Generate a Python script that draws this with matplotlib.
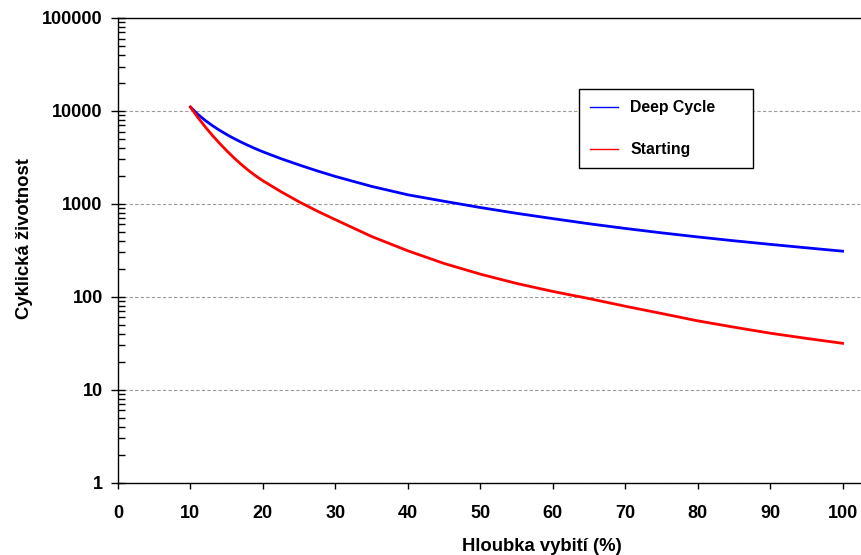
import matplotlib.pyplot as plt
from matplotlib.ticker import LogLocator, FixedLocator, NullFormatter

plt.rcParams['font.family'] = ['Liberation Sans', 'DejaVu Sans']
plt.rcParams['font.weight'] = 'bold'

# Hloubka vybiti (%) and cycle life
dod = [10, 11, 12, 13, 14, 15, 16, 17, 18, 19, 20, 22.5, 25, 27.5, 30,
       35, 40, 45, 50, 55, 60, 65, 70, 75, 80, 85, 90, 95, 100]
deep_cycle = [11000, 9220, 7940, 6970, 6200, 5570, 5050, 4610, 4240, 3910,
              3630, 3060, 2620, 2260, 1970, 1540, 1250, 1065, 912, 790,
              693, 610, 543, 487, 440, 400, 366, 336, 309]
starting = [11000, 8550, 6800, 5480, 4500, 3730, 3130, 2660, 2290, 2000,
            1770, 1350, 1050, 835, 675, 445, 312, 228, 175, 139,
            114, 95.5, 79, 66, 55, 47, 40.5, 35.6, 31.5]

x_ticks = [0, 10, 20, 30, 40, 50, 60, 70, 80, 90, 100]
y_ticks = [1, 10, 100, 1000, 10000, 100000]

fig = plt.figure(figsize=(8.61, 5.55), dpi=100)
ax = fig.add_axes([0.137, 0.1306, 0.8618, 0.837])

ax.plot(dod, deep_cycle, color='#0000FF', lw=2.0, label='Deep Cycle')
ax.plot(dod, starting, color='#FF0000', lw=2.0, label='Starting')

ax.set_yscale('log')
ax.set_ylim(1, 100000)
ax.set_xlim(0, 102.4)

ax.xaxis.set_major_locator(FixedLocator(x_ticks))
ax.yaxis.set_major_locator(FixedLocator(y_ticks))
ax.set_yticklabels([str(v) for v in y_ticks])
ax.yaxis.set_minor_locator(LogLocator(base=10, subs=range(2, 10), numticks=20))
ax.yaxis.set_minor_formatter(NullFormatter())

ax.tick_params(axis='y', which='major', direction='inout', length=10, width=1,
               labelsize=13, pad=6)
ax.tick_params(axis='y', which='minor', direction='in', length=5, width=1)
ax.tick_params(axis='x', which='major', direction='out', length=4, width=1,
               labelsize=13, pad=12)

ax.grid(True, which='major', axis='y', color='#999999', linestyle=(0, (3, 2)),
        linewidth=0.8)
ax.set_axisbelow(True)

for side in ['left', 'bottom', 'top']:
    ax.spines[side].set_linewidth(1.0)
ax.spines['right'].set_visible(False)

leg = ax.legend(loc='upper left', bbox_to_anchor=(0.621, 0.677, 0.235, 0.17),
                mode='expand', borderaxespad=0, fancybox=False, framealpha=1,
                edgecolor='black', prop={'size': 11.4, 'weight': 'bold'},
                handlelength=1.8, handletextpad=0.75, labelspacing=1.7,
                borderpad=0.7)
leg.get_frame().set_linewidth(1.0)
for line in leg.get_lines():
    line.set_linewidth(1.0)

fig.text(542 / 861, 0.008, 'Hloubka vybití (%)', ha='center', va='baseline',
         fontsize=13.3, fontweight='bold')
fig.text(25 / 861, 1 - 239 / 555, 'Cyklická životnost', ha='center', va='center',
         rotation=90, fontsize=13.3, fontweight='bold')

fig.savefig('out.png', dpi=100)
